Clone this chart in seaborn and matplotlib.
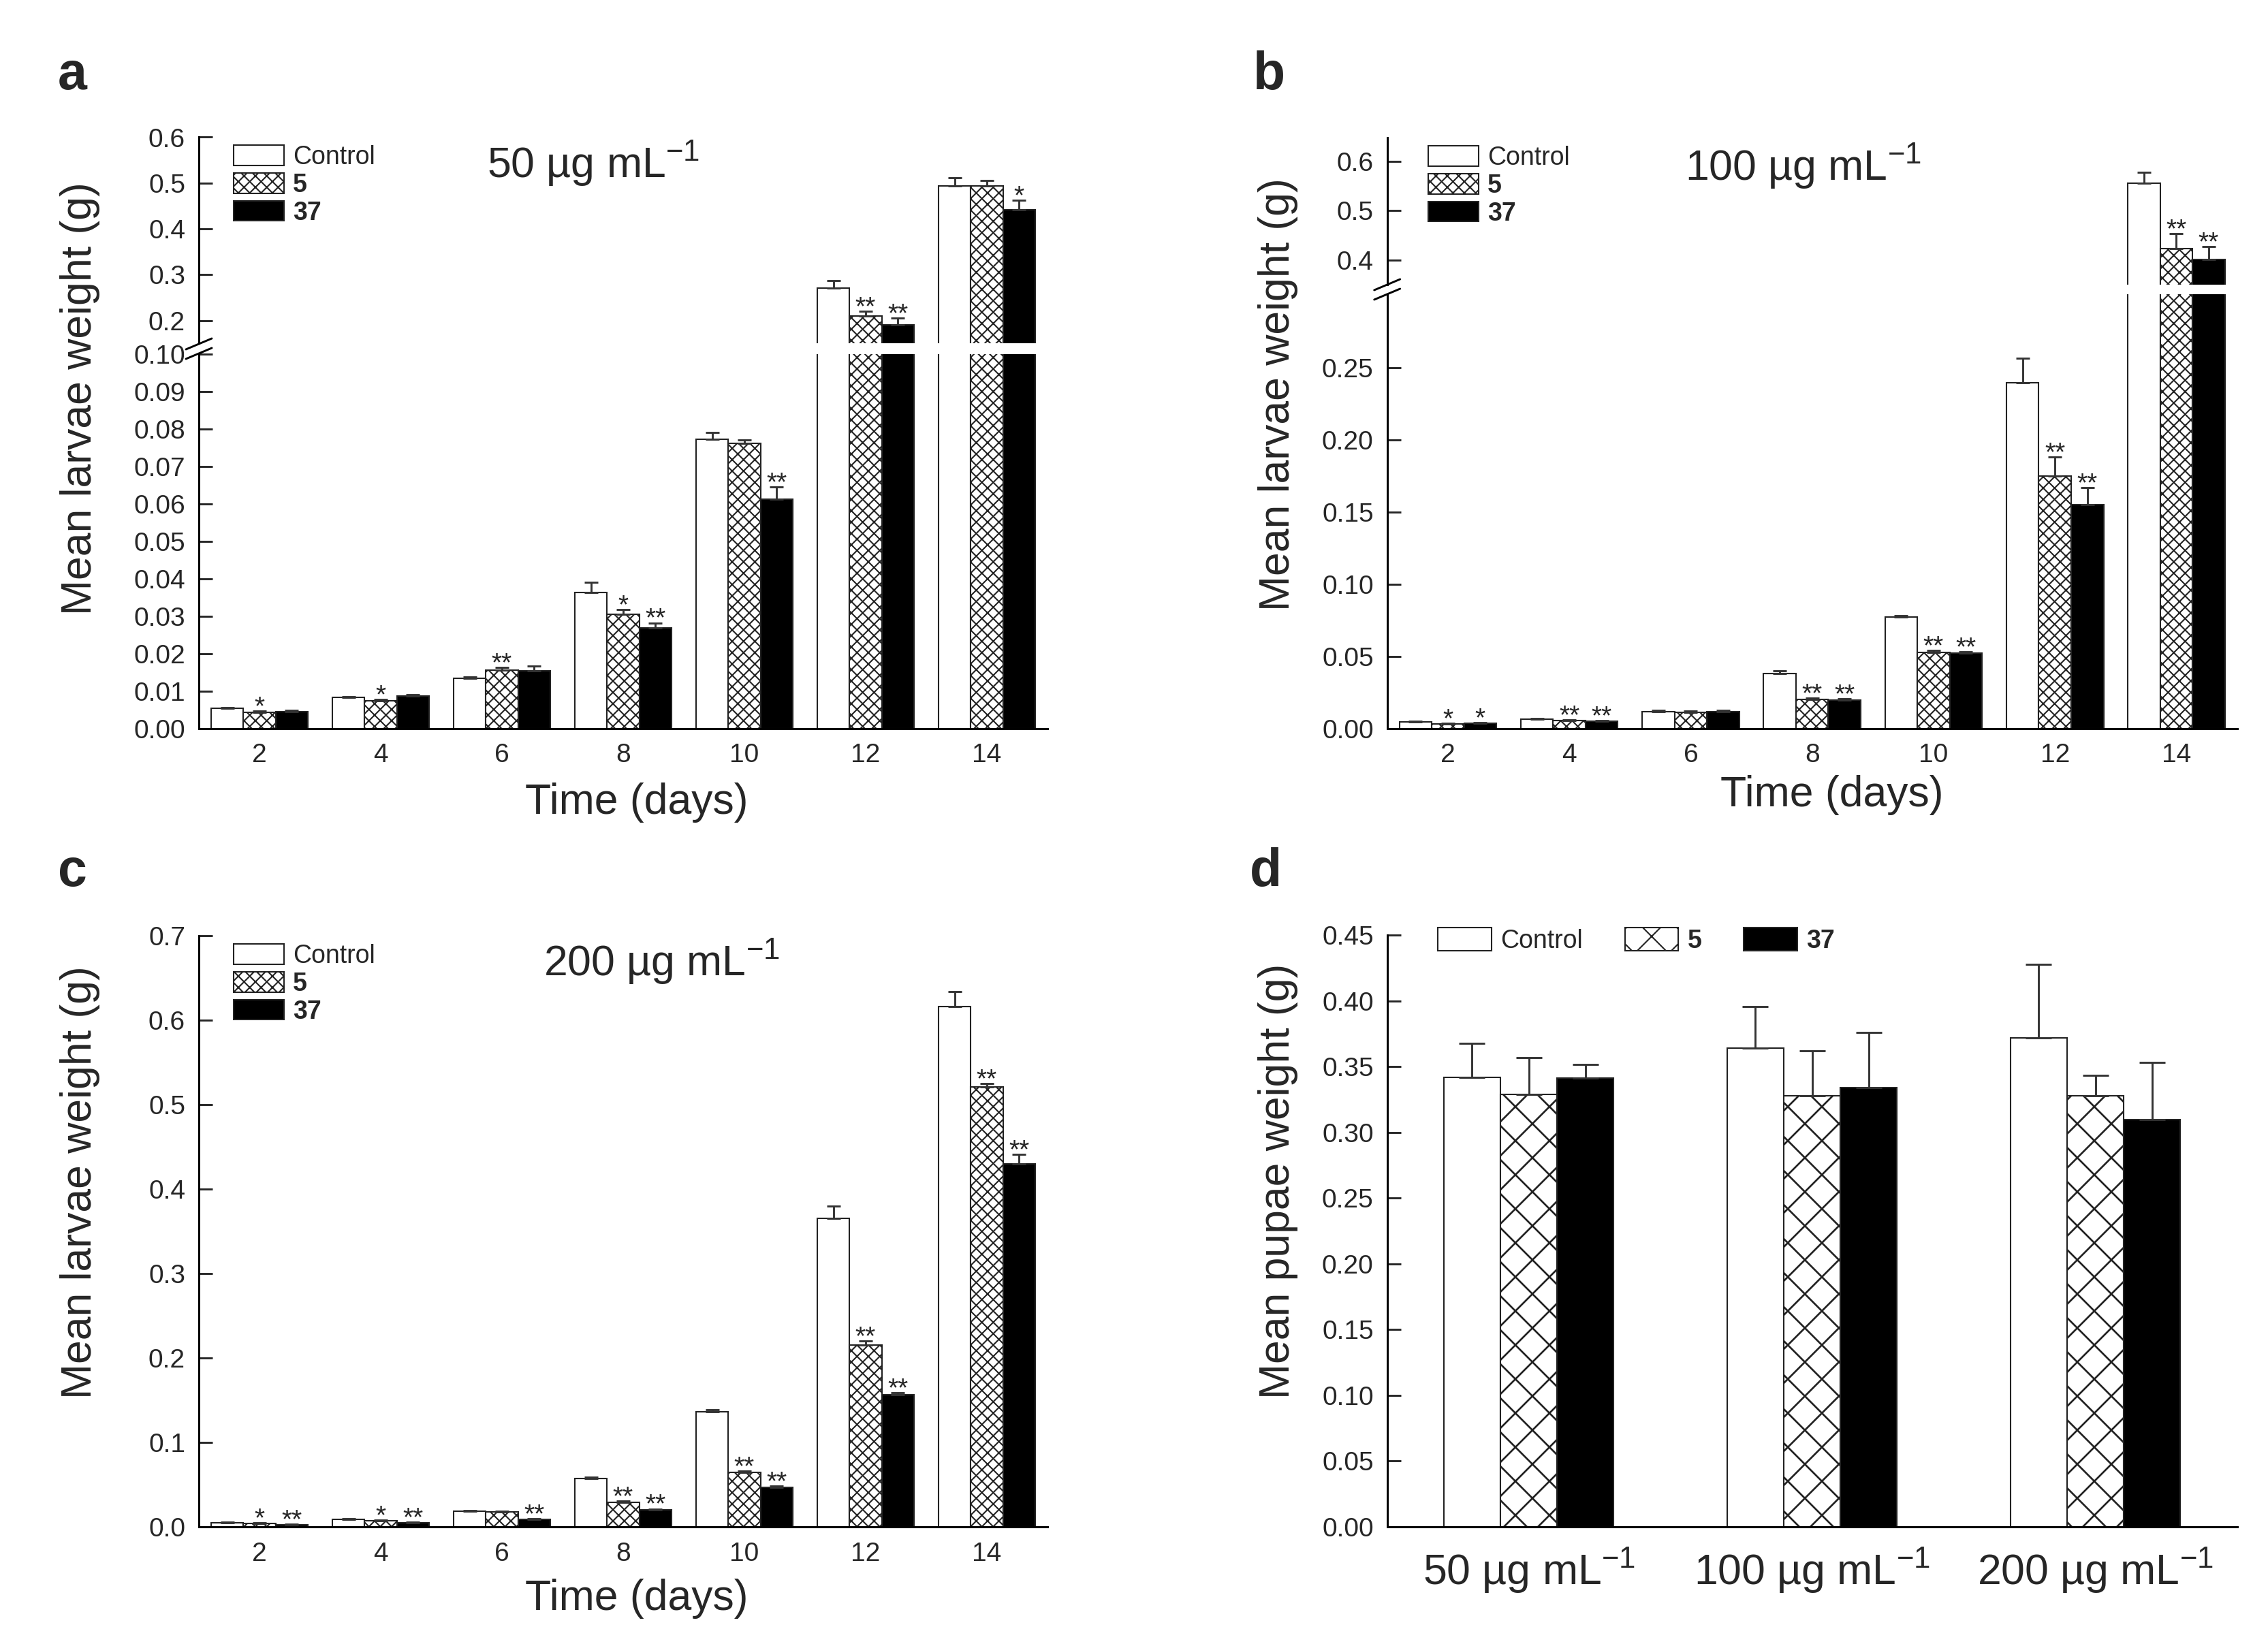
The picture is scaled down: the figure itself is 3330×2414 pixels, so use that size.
import numpy as np
import pandas as pd
import seaborn as sns
import matplotlib.pyplot as plt
from matplotlib.patches import Patch
from matplotlib.lines import Line2D

# ---- data ----
days = [2, 4, 6, 8, 10, 12, 14]
groups = ['Control', '5', '37']

# a: 50 ug/mL
a_control = [0.0053, 0.0082, 0.0134, 0.0363, 0.0772, 0.271, 0.494]
a_5 = [0.0043, 0.0074, 0.0156, 0.0304, 0.0761, 0.210, 0.494]
a_37 = [0.0045, 0.0087, 0.0154, 0.0268, 0.0613, 0.190, 0.442]
a_control_err = [0.0003, 0.0003, 0.0004, 0.0027, 0.0018, 0.016, 0.018]
a_5_err = [0.0004, 0.0003, 0.0006, 0.0013, 0.0010, 0.010, 0.011]
a_37_err = [0.0004, 0.0003, 0.0012, 0.0014, 0.0032, 0.015, 0.021]
a_5_sig = ['*', '*', '**', '*', '', '**', '']
a_37_sig = ['', '', '', '**', '**', '**', '*']

# b: 100 ug/mL
b_control = [0.0047, 0.0065, 0.0116, 0.0378, 0.0771, 0.2396, 0.556]
b_5 = [0.0033, 0.0055, 0.0110, 0.0200, 0.0527, 0.175, 0.423]
b_37 = [0.0036, 0.0051, 0.0116, 0.0196, 0.0520, 0.155, 0.402]
b_control_err = [0.0003, 0.0003, 0.0008, 0.0020, 0.0010, 0.017, 0.021]
b_5_err = [0.0003, 0.0003, 0.0008, 0.0010, 0.0015, 0.013, 0.030]
b_37_err = [0.0003, 0.0003, 0.0008, 0.0008, 0.0010, 0.012, 0.025]
b_5_sig = ['*', '**', '', '**', '**', '**', '**']
b_37_sig = ['*', '**', '', '**', '**', '**', '**']

# c: 200 ug/mL
c_control = [0.0044, 0.0087, 0.0186, 0.057, 0.136, 0.365, 0.616]
c_5 = [0.0037, 0.0068, 0.0174, 0.029, 0.064, 0.215, 0.521]
c_37 = [0.0025, 0.0050, 0.0087, 0.020, 0.0466, 0.156, 0.430]
c_control_err = [0.0008, 0.0008, 0.0010, 0.0020, 0.0030, 0.015, 0.018]
c_5_err = [0.0008, 0.0008, 0.0010, 0.0015, 0.0020, 0.005, 0.004]
c_37_err = [0.0006, 0.0006, 0.0008, 0.0012, 0.0015, 0.003, 0.011]
c_5_sig = ['*', '*', '', '**', '**', '**', '**']
c_37_sig = ['**', '**', '**', '**', '**', '**', '**']

# d: pupae weight
conc = ['50 µg mL$^{-1}$', '100 µg mL$^{-1}$', '200 µg mL$^{-1}$']
d_control = [0.342, 0.364, 0.372]
d_5 = [0.329, 0.328, 0.328]
d_37 = [0.3415, 0.334, 0.310]
d_control_err = [0.026, 0.032, 0.056]
d_5_err = [0.028, 0.034, 0.0155]
d_37_err = [0.010, 0.042, 0.0435]

a_top_ticks = [0.2, 0.3, 0.4, 0.5, 0.6]
a_top_labels = ['0.2', '0.3', '0.4', '0.5', '0.6']
a_bot_ticks = [0.00, 0.01, 0.02, 0.03, 0.04, 0.05, 0.06, 0.07, 0.08, 0.09, 0.10]
a_bot_labels = ['0.00', '0.01', '0.02', '0.03', '0.04', '0.05', '0.06', '0.07', '0.08', '0.09', '0.10']
b_top_ticks = [0.4, 0.5, 0.6]
b_top_labels = ['0.4', '0.5', '0.6']
b_bot_ticks = [0.00, 0.05, 0.10, 0.15, 0.20, 0.25]
b_bot_labels = ['0.00', '0.05', '0.10', '0.15', '0.20', '0.25']
c_ticks = [0.0, 0.1, 0.2, 0.3, 0.4, 0.5, 0.6, 0.7]
c_labels = ['0.0', '0.1', '0.2', '0.3', '0.4', '0.5', '0.6', '0.7']
d_ticks = [0.00, 0.05, 0.10, 0.15, 0.20, 0.25, 0.30, 0.35, 0.40, 0.45]
d_labels = ['0.00', '0.05', '0.10', '0.15', '0.20', '0.25', '0.30', '0.35', '0.40', '0.45']

# ---- style ----
sns.set_style('ticks')
plt.rcParams['font.family'] = ['Liberation Sans', 'DejaVu Sans']
plt.rcParams['mathtext.fontset'] = 'custom'
plt.rcParams['mathtext.rm'] = 'Liberation Sans'
plt.rcParams['mathtext.it'] = 'Liberation Sans:italic'
plt.rcParams['mathtext.bf'] = 'Liberation Sans:bold'
plt.rcParams['hatch.color'] = '#333333'
plt.rcParams['hatch.linewidth'] = 1.0

W, H = 3330, 2414
DPI = 150
fig = plt.figure(figsize=(W / DPI, H / DPI), dpi=DPI, facecolor='white')

colors = {'Control': 'white', '5': 'white', '37': 'black'}
EDGE = '#222222'
TICK_FS = 18.7
LAB_FS = 30
TITLE_FS = 30


def px_axes(left, top, right, bottom):
    return fig.add_axes([left / W, 1 - bottom / H, (right - left) / W, (bottom - top) / H])


def long_df(xs, series):
    rows = []
    for g, vals in zip(groups, series):
        for x, v in zip(xs, vals):
            rows.append({'x': x, 'y': v, 'group': g})
    return pd.DataFrame(rows)


def style_axis(ax):
    for s in ['top', 'right']:
        ax.spines[s].set_visible(False)
    for s in ['left', 'bottom']:
        ax.spines[s].set_linewidth(1.44)
        ax.spines[s].set_color('black')
    ax.tick_params(axis='y', direction='in', length=9.6, width=1.4, pad=9.6, labelsize=TICK_FS)
    ax.tick_params(axis='x', length=0, pad=10.5, labelsize=TICK_FS)
    ax.set_xlabel('')
    ax.set_ylabel('')


def draw_bars(ax, xs, series, errs, sigs, hatch, capsize, width, ylim, sig_range=None, hatch_lw=1.0):
    df = long_df(xs, series)
    sns.barplot(data=df, x='x', y='y', hue='group', order=xs, hue_order=groups,
                palette=colors, edgecolor=EDGE, linewidth=1.0, width=width,
                saturation=1, errorbar=None, legend=False, ax=ax)
    for i, (cont, err) in enumerate(zip(ax.containers, errs)):
        cx = [p.get_x() + p.get_width() / 2 for p in cont.patches]
        hs = [p.get_height() for p in cont.patches]
        if groups[i] == '5':
            for p in cont.patches:
                p.set_hatch(hatch)
                if hasattr(p, 'set_hatch_linewidth'):
                    p.set_hatch_linewidth(hatch_lw)
        ax.errorbar(cx, hs, yerr=[np.zeros(len(err)), err], fmt='none', ecolor='#333333',
                    elinewidth=1.4, capsize=capsize, capthick=1.4, zorder=1)
        if sigs is not None and sigs[i] is not None:
            for x, h, e, s in zip(cx, hs, err, sigs[i]):
                top = h + e
                if s and (sig_range is None or sig_range[0] <= top < sig_range[1]):
                    ax.annotate(s, (x, top), xytext=(0, -2.5), textcoords='offset points',
                                ha='center', va='baseline', fontsize=TICK_FS)
    ax.set_xlim(-0.5, len(xs) - 0.5)
    ax.set_ylim(*ylim)
    style_axis(ax)


def add_legend(ax, left_px, top_px, hatch, ncol=1, handleheight=0.83, handlelength=1.97,
               labelspacing=0.13):
    handles = [Patch(facecolor=colors[g], edgecolor=EDGE, linewidth=1.0,
                     hatch=hatch if g == '5' else None) for g in groups]
    leg = ax.legend(handles, groups, loc='upper left',
                    bbox_to_anchor=(left_px / W, 1 - top_px / H), bbox_transform=fig.transFigure,
                    frameon=False, fontsize=18, borderpad=0, borderaxespad=0,
                    labelspacing=labelspacing, handletextpad=0.35, handleheight=handleheight,
                    handlelength=handlelength, ncol=ncol, columnspacing=1.65)
    for t in leg.get_texts()[1:]:
        t.set_fontweight('bold')


def break_marks(x_px, y_px):
    for d in (-7, 7):
        fig.add_artist(Line2D([(x_px - 19) / W, (x_px + 19) / W],
                              [1 - (y_px + 8 + d) / H, 1 - (y_px - 8 + d) / H],
                              transform=fig.transFigure, color='black', lw=1.4))


DENSE = 'xxx'
SPARSE = 'x'

# ---- panel a ----
a_series = [a_control, a_5, a_37]
a_errs = [a_control_err, a_5_err, a_37_err]
a_sigs = [None, a_5_sig, a_37_sig]
ax_at = px_axes(292, 201.5, 1538, 504.3)
ax_ab = px_axes(292, 520, 1538, 1069.5)
draw_bars(ax_at, days, a_series, a_errs, a_sigs, DENSE, 5, 0.8, (0.15, 0.6), (0.1, 1))
draw_bars(ax_ab, days, a_series, a_errs, a_sigs, DENSE, 5, 0.8, (0, 0.10), (0, 0.1))
ax_at.spines['bottom'].set_visible(False)
ax_at.tick_params(axis='x', bottom=False, labelbottom=False)
ax_at.set_yticks(a_top_ticks)
ax_at.set_yticklabels(a_top_labels)
ax_ab.set_yticks(a_bot_ticks)
ax_ab.set_yticklabels(a_bot_labels)
ax_ab.set_ylabel('Mean larvae weight (g)', fontsize=LAB_FS, va='center')
ax_ab.yaxis.set_label_coords(-0.1404, 0.8806)
ax_ab.set_xlabel('Time (days)', fontsize=LAB_FS, va='center')
ax_ab.xaxis.set_label_coords(0.5157, -0.199)
break_marks(292, 512)
add_legend(ax_at, 343, 213, DENSE)
fig.text(870.8 / W, 1 - 240 / H, '50 µg mL$^{-1}$', fontsize=TITLE_FS, ha='center', va='center')

# ---- panel b ----
b_series = [b_control, b_5, b_37]
b_errs = [b_control_err, b_5_err, b_37_err]
b_sigs = [None, b_5_sig, b_37_sig]
ax_bt = px_axes(2036.7, 201.9, 3284.6, 418.4)
ax_bb = px_axes(2036.7, 431.5, 3284.6, 1069.5)
draw_bars(ax_bt, days, b_series, b_errs, b_sigs, DENSE, 5, 0.8, (0.35, 0.6476), (0.3, 1))
draw_bars(ax_bb, days, b_series, b_errs, b_sigs, DENSE, 5, 0.8, (0, 0.3011), (0, 0.3))
ax_bt.spines['bottom'].set_visible(False)
ax_bt.tick_params(axis='x', bottom=False, labelbottom=False)
ax_bt.set_yticks(b_top_ticks)
ax_bt.set_yticklabels(b_top_labels)
ax_bb.set_yticks(b_bot_ticks)
ax_bb.set_yticklabels(b_bot_labels)
ax_bb.set_ylabel('Mean larvae weight (g)', fontsize=LAB_FS, va='center')
ax_bb.yaxis.set_label_coords(-0.128, 0.768)
ax_bb.set_xlabel('Time (days)', fontsize=LAB_FS, va='center')
ax_bb.xaxis.set_label_coords(0.5234, -0.1533)
break_marks(2036.7, 425)
add_legend(ax_bt, 2097, 214, DENSE)
fig.text(2647.3 / W, 1 - 244 / H, '100 µg mL$^{-1}$', fontsize=TITLE_FS, ha='center', va='center')

# ---- panel c ----
ax_c = px_axes(292, 1374.2, 1538, 2241.8)
draw_bars(ax_c, days, [c_control, c_5, c_37], [c_control_err, c_5_err, c_37_err],
          [None, c_5_sig, c_37_sig], DENSE, 5, 0.8, (0, 0.7))
ax_c.set_yticks(c_ticks)
ax_c.set_yticklabels(c_labels)
ax_c.set_ylabel('Mean larvae weight (g)', fontsize=LAB_FS, va='center')
ax_c.yaxis.set_label_coords(-0.1404, 0.5826)
ax_c.set_xlabel('Time (days)', fontsize=LAB_FS, va='center')
ax_c.xaxis.set_label_coords(0.5157, -0.1216)
add_legend(ax_c, 343, 1386, DENSE)
fig.text(971.6 / W, 1 - 1412 / H, '200 µg mL$^{-1}$', fontsize=TITLE_FS, ha='center', va='center')

# ---- panel d ----
ax_d = px_axes(2036.7, 1373.4, 3284.6, 2241.8)
draw_bars(ax_d, conc, [d_control, d_5, d_37], [d_control_err, d_5_err, d_37_err],
          None, SPARSE, 8.9, 0.6, (0, 0.45), hatch_lw=1.3)
ax_d.set_yticks(d_ticks)
ax_d.set_yticklabels(d_labels)
ax_d.tick_params(axis='x', labelsize=TITLE_FS, pad=13.5)
ax_d.set_ylabel('Mean pupae weight (g)', fontsize=LAB_FS, va='center')
ax_d.yaxis.set_label_coords(-0.128, 0.5838)
add_legend(ax_d, 2111, 1362, SPARSE, ncol=3, handleheight=1.03, handlelength=2.1)

# ---- panel letters ----
for letter, (lx, ly) in zip('abcd', [(85, 131), (1840, 131), (85, 1301), (1835, 1301)]):
    fig.text(lx / W, 1 - ly / H, letter, fontsize=37, fontweight='bold', ha='left', va='baseline')

fig.savefig('out.png', dpi=DPI, facecolor='white')
